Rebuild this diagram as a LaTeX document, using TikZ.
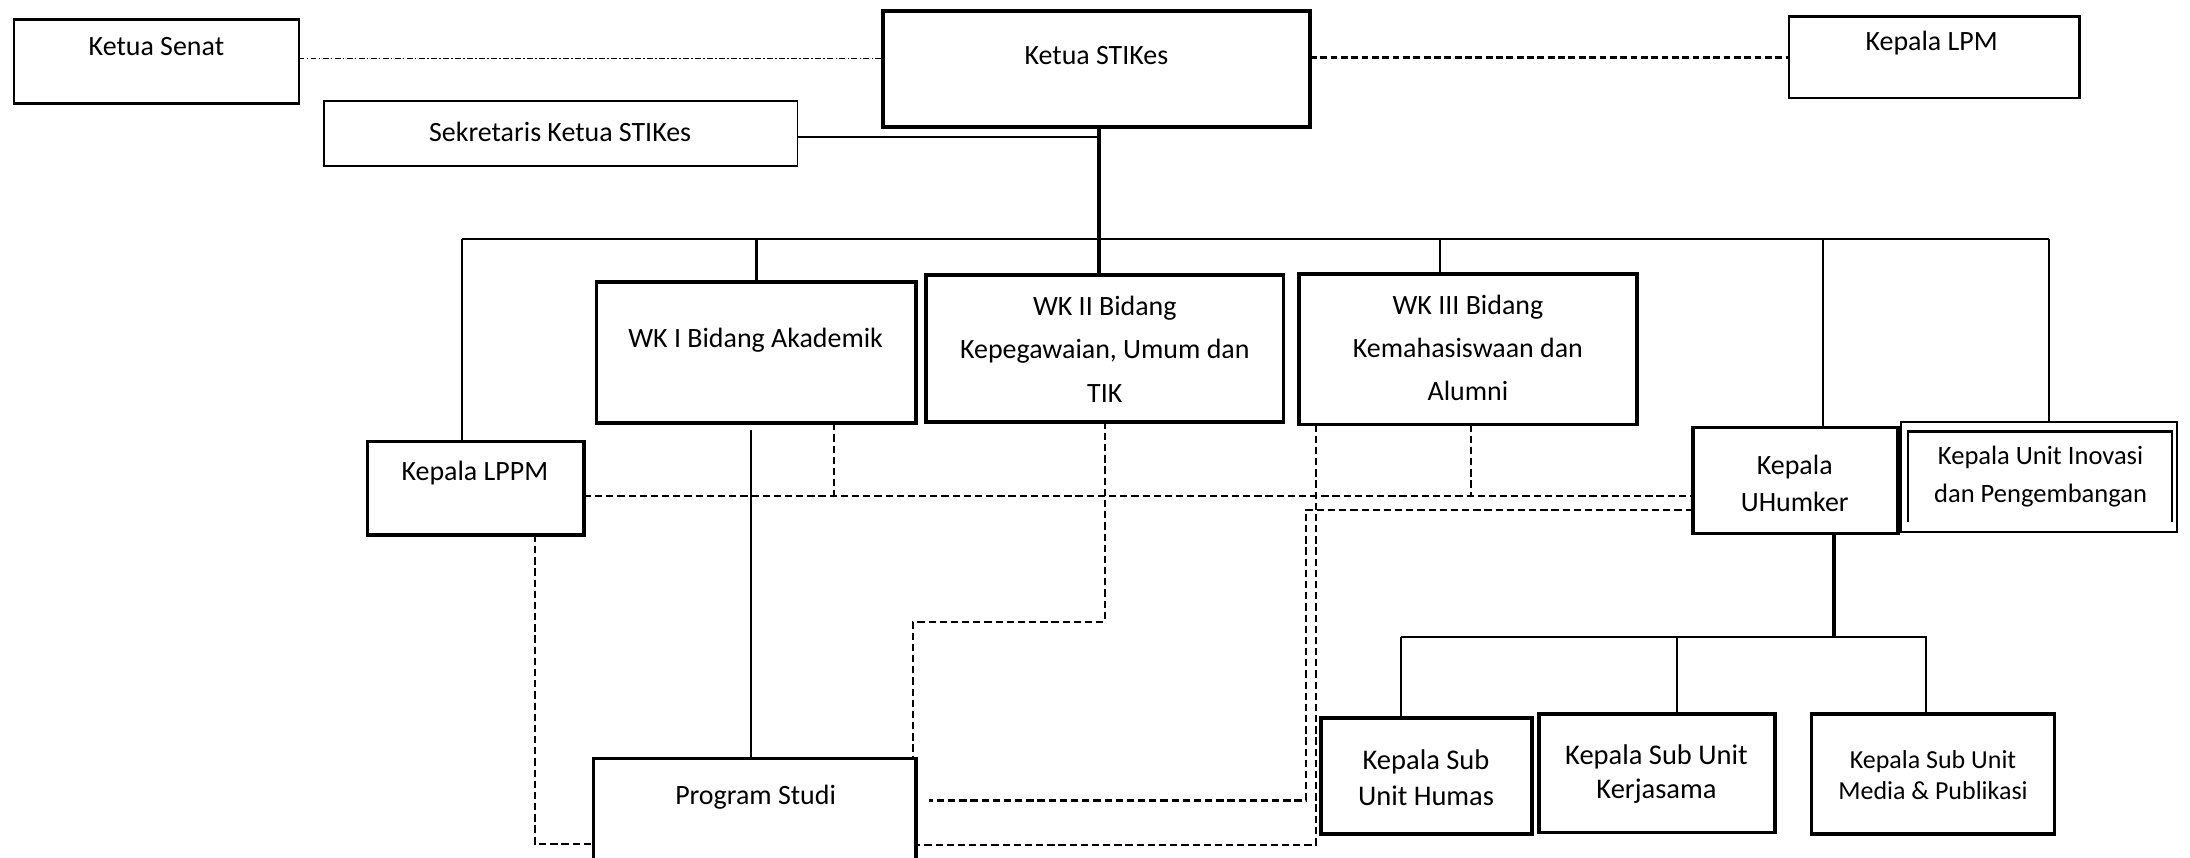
\documentclass[tikz,border=0pt]{standalone}
\usepackage{fontspec}
\setmainfont{Carlito}
\begin{document}
\begin{tikzpicture}[x=0.5pt,y=-0.5pt,
  sz/.style 2 args={minimum width=#1*0.5pt, minimum height=#2*0.5pt},
  box/.style={draw, anchor=north west, inner sep=0pt, outer sep=0pt},
  thinbox/.style={box, line width=0.7pt},
  midbox/.style={box, line width=0.9pt},
  boldbox/.style={box, line width=1.3pt},
  txt/.style={align=center, inner sep=0pt, font=\fontsize{10}{15.5}\selectfont},
  small/.style={align=center, inner sep=0pt, font=\fontsize{9.5}{13.5}\selectfont},
  one/.style={text height=7pt, text depth=2pt},
  thinline/.style={line width=0.75pt},
  busline/.style={line width=0.95pt},
  trunkline/.style={line width=1.3pt},
  dashline/.style={line width=0.7pt, dash pattern=on 2.6pt off 1.4pt},
  dashbold/.style={line width=0.9pt, dash pattern=on 2.6pt off 1.4pt},
  lpmline/.style={line width=1pt, dash pattern=on 2.4pt off 1.3pt},
  dashdotline/.style={line width=0.55pt, dash pattern=on 2pt off 0.9pt on 0.5pt off 0.9pt},
]
\fill[white] (0,0) rectangle (1568,614);
\useasboundingbox (0,0) rectangle (1568,614);

% ---- top level ----
\node[midbox, sz={204}{60}] (senat) at (10,14) {};
\node[txt, one] (tsenat) at (112,35) {Ketua Senat};
\node[boldbox, sz={306}{83}] (ketua) at (632,8) {};
\node[txt, one] (tketua) at (785,41) {Ketua STIKes};
\node[midbox, sz={208}{58}] (lpm) at (1281,12) {};
\node[txt, one] (tlpm) at (1383,31) {Kepala LPM};
\node[thinbox, sz={339}{47}] (sekr) at (232,72) {};
\node[txt, one] (tsekr) at (401,96) {Sekretaris Ketua STIKes};

% ---- vice chairs and units ----
\node[boldbox, sz={229}{101}] (wk1) at (427,202) {};
\node[txt, one] (twk1) at (541,244) {WK I Bidang Akademik};
\node[boldbox, sz={256}{105}] (wk2) at (663,197) {};
\node[txt] (twk2) at (791,250) {WK II Bidang\\Kepegawaian, Umum dan\\TIK};
\node[boldbox, sz={242}{108}] (wk3) at (930,196) {};
\node[txt] (twk3) at (1051,249) {WK III Bidang\\Kemahasiswaan dan\\Alumni};
\node[boldbox, sz={155}{67}] (lppm) at (263,316) {};
\node[txt, one] (tlppm) at (340,339) {Kepala LPPM};
\node[boldbox, sz={147}{76}] (uhum) at (1212,306) {};
\node[txt, font=\fontsize{10}{13}\selectfont] (tuhum) at (1285,346) {Kepala\\UHumker};
\node[thinbox, sz={198}{79}] (inov) at (1361,302) {};
\draw[line width=0.8pt] (1366,374) -- (1366,309) -- (1555,309) -- (1555,374);
\node[small] (tinov) at (1461,341) {Kepala Unit Inovasi\\dan Pengembangan};

% ---- study programme ----
\node[boldbox, sz={231}{120}] (prodi) at (425,543) {};
\node[txt, one] (tprodi) at (541,571) {Program Studi};

% ---- UHumker sub units ----
\node[boldbox, sz={151}{83}] (humas) at (946,514) {};
\node[txt, font=\fontsize{10.2}{13}\selectfont] (thumas) at (1021,557) {Kepala Sub\\Unit Humas};
\node[boldbox, sz={169}{85}] (kerja) at (1102,511) {};
\node[txt, font=\fontsize{10.2}{12.2}\selectfont] (tkerja) at (1186,554) {Kepala Sub Unit\\Kerjasama};
\node[boldbox, sz={174}{86}] (media) at (1297,511) {};
\node[small, font=\fontsize{9.3}{11.2}\selectfont] (tmedia) at (1384,555) {Kepala Sub Unit\\Media \& Publikasi};

% ---- connectors: top level ----
\draw[dashdotline] (senat.east |- 0,42) -- (ketua.west |- 0,42);
\draw[lpmline] (ketua.east |- 0,41) -- (lpm.west |- 0,41);
\draw[thinline] (sekr.east |- 0,98) -- (787,98);
\draw[trunkline] (787,0 |- ketua.south) -- (787,0 |- wk2.north);

% ---- main bus and drops ----
\coordinate (busL) at (331,171);
\coordinate (busR) at (1467,171);
\draw[busline] (busL) -- (busR);
\draw[thinline] (busL) -- (busL |- lppm.north);
\draw[busline] (wk1.north |- busL) -- (wk1.north);
\draw[busline] (1031,171) -- (1031,0 |- wk3.north);
\draw[thinline] (1305,171) -- (1305,0 |- uhum.north);
\draw[thinline] (busR) -- (busR |- inov.north);

% ---- coordination lines ----
\draw[dashline] (lppm.east |- 0,355) -- (uhum.west |- 0,355);
\draw[dashline] (597,0 |- wk1.south) -- (597,355);
\draw[dashline] (1053,0 |- wk3.south) -- (1053,355);
\draw[thinline] (538,308) -- (538,0 |- prodi.north);
\draw[dashline] (383,0 |- lppm.south) -- (383,604) -- (prodi.west |- 0,604);
\draw[dashline] (791,0 |- wk2.south) -- (791,445) -- (654,445) -- (654,0 |- prodi.north);
\draw[dashline] (942,0 |- wk3.south) -- (942,605) -- (prodi.east |- 0,605);
\draw[dashbold] (uhum.west |- 0,365) -- (935,365) -- (935,573) -- (665,573);

% ---- UHumker sub-unit tree ----
\draw[trunkline] (1313,0 |- uhum.south) -- (1313,456);
\draw[busline] (1003,456) -- (1380,456);
\draw[thinline] (1003,456) -- (1003,0 |- humas.north);
\draw[thinline] (1201,456) -- (1201,0 |- kerja.north);
\draw[thinline] (1379,456) -- (1379,0 |- media.north);
\end{tikzpicture}
\end{document}
